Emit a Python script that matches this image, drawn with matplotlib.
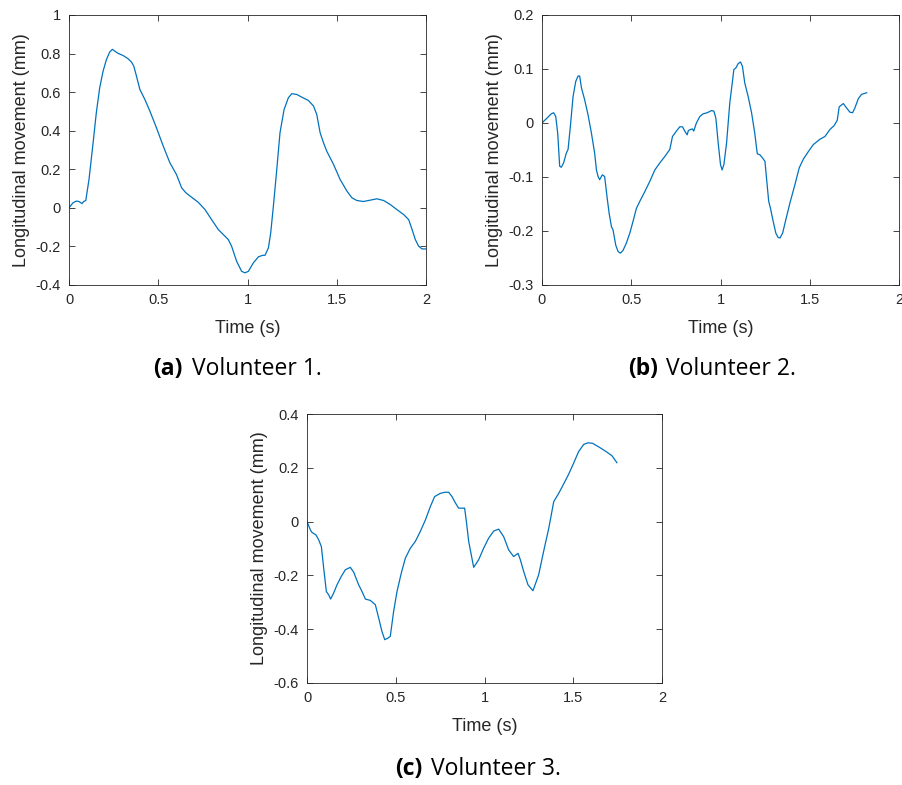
import matplotlib
matplotlib.use("Agg")
import matplotlib.pyplot as plt
from matplotlib.ticker import FormatStrFormatter

plt.rcParams['font.family'] = ['Liberation Sans', 'DejaVu Sans']
plt.rcParams['axes.unicode_minus'] = False

# Volunteer 1
t1 = [0, 0.022, 0.041, 0.056, 0.073, 0.082, 0.094, 0.112, 0.135, 0.153, 0.172, 0.191,
      0.21, 0.228, 0.243, 0.256, 0.275, 0.303, 0.331, 0.35, 0.363, 0.378, 0.397, 0.425,
      0.453, 0.49, 0.528, 0.565, 0.602, 0.631, 0.655, 0.687, 0.724, 0.762, 0.799, 0.836,
      0.864, 0.892, 0.911, 0.939, 0.967, 0.986, 1.005, 1.033, 1.061, 1.085, 1.098, 1.117,
      1.13, 1.145, 1.164, 1.182, 1.205, 1.229, 1.248, 1.276, 1.304, 1.341, 1.37, 1.388,
      1.407, 1.426, 1.444, 1.482, 1.519, 1.557, 1.585, 1.613, 1.65, 1.688, 1.725, 1.763,
      1.8, 1.837, 1.875, 1.903, 1.922, 1.94, 1.959, 1.978, 2.0]
v1 = [0, 0.026, 0.035, 0.033, 0.022, 0.033, 0.038, 0.147, 0.337, 0.493, 0.623, 0.709,
      0.77, 0.808, 0.822, 0.813, 0.801, 0.79, 0.773, 0.756, 0.735, 0.683, 0.614, 0.562,
      0.502, 0.415, 0.32, 0.234, 0.173, 0.104, 0.078, 0.055, 0.029, -0.009, -0.061, -0.112,
      -0.138, -0.164, -0.199, -0.277, -0.329, -0.337, -0.329, -0.285, -0.254, -0.246, -0.246,
      -0.208, -0.13, 0.009, 0.199, 0.389, 0.51, 0.571, 0.592, 0.588, 0.574, 0.557, 0.528,
      0.484, 0.389, 0.337, 0.294, 0.225, 0.147, 0.087, 0.052, 0.038, 0.033, 0.04, 0.047,
      0.038, 0.017, -0.009, -0.035, -0.061, -0.112, -0.164, -0.199, -0.213, -0.213]

# Volunteer 2
t2 = [0, 0.015, 0.034, 0.052, 0.065, 0.077, 0.088, 0.099, 0.108, 0.121, 0.136, 0.146,
      0.159, 0.174, 0.189, 0.202, 0.211, 0.221, 0.239, 0.258, 0.277, 0.295, 0.305, 0.314,
      0.323, 0.338, 0.351, 0.364, 0.376, 0.389, 0.398, 0.413, 0.426, 0.439, 0.454, 0.473,
      0.492, 0.51, 0.529, 0.548, 0.576, 0.604, 0.632, 0.66, 0.688, 0.716, 0.731, 0.753,
      0.772, 0.787, 0.8, 0.813, 0.82, 0.832, 0.843, 0.85, 0.865, 0.884, 0.903, 0.925,
      0.95, 0.963, 0.974, 0.987, 1.0, 1.009, 1.019, 1.034, 1.052, 1.075, 1.086, 1.099,
      1.112, 1.123, 1.136, 1.155, 1.174, 1.192, 1.206, 1.221, 1.236, 1.249, 1.262, 1.27,
      1.28, 1.295, 1.31, 1.323, 1.333, 1.348, 1.366, 1.389, 1.417, 1.441, 1.464, 1.492,
      1.52, 1.557, 1.585, 1.613, 1.636, 1.654, 1.665, 1.688, 1.706, 1.725, 1.74, 1.753,
      1.772, 1.79, 1.819]
v2 = [0, 0.005, 0.011, 0.017, 0.019, 0.012, -0.019, -0.08, -0.082, -0.074, -0.056, -0.049,
      -0.006, 0.049, 0.077, 0.087, 0.087, 0.065, 0.043, 0.015, -0.019, -0.056, -0.087, -0.099,
      -0.105, -0.096, -0.099, -0.136, -0.167, -0.192, -0.198, -0.226, -0.238, -0.241, -0.236,
      -0.222, -0.204, -0.182, -0.158, -0.145, -0.127, -0.108, -0.087, -0.074, -0.062, -0.049,
      -0.025, -0.015, -0.007, -0.007, -0.015, -0.022, -0.014, -0.012, -0.011, -0.015, 0,
      0.012, 0.017, 0.019, 0.023, 0.022, 0.009, -0.037, -0.077, -0.087, -0.077, -0.037,
      0.037, 0.099, 0.102, 0.11, 0.113, 0.105, 0.074, 0.049, 0.019, -0.019, -0.057, -0.059,
      -0.065, -0.071, -0.117, -0.145, -0.158, -0.182, -0.204, -0.212, -0.213, -0.204, -0.179,
      -0.148, -0.114, -0.083, -0.067, -0.053, -0.04, -0.03, -0.025, -0.012, -0.005, 0.005,
      0.03, 0.036, 0.028, 0.02, 0.019, 0.028, 0.045, 0.053, 0.056]

# Volunteer 3
t3 = [0, 0.019, 0.028, 0.051, 0.066, 0.081, 0.094, 0.109, 0.122, 0.133, 0.15, 0.169,
      0.193, 0.216, 0.244, 0.263, 0.291, 0.31, 0.329, 0.357, 0.385, 0.404, 0.422, 0.438,
      0.456, 0.469, 0.488, 0.507, 0.531, 0.554, 0.582, 0.61, 0.638, 0.667, 0.695, 0.719,
      0.751, 0.776, 0.798, 0.817, 0.832, 0.854, 0.873, 0.888, 0.898, 0.911, 0.939, 0.967,
      0.995, 1.023, 1.052, 1.08, 1.108, 1.136, 1.164, 1.189, 1.202, 1.221, 1.245, 1.273,
      1.305, 1.333, 1.362, 1.39, 1.418, 1.446, 1.474, 1.502, 1.53, 1.559, 1.583, 1.609,
      1.643, 1.681, 1.718, 1.746]
v3 = [0, -0.031, -0.04, -0.05, -0.068, -0.093, -0.173, -0.26, -0.272, -0.288, -0.266,
      -0.235, -0.204, -0.179, -0.17, -0.188, -0.235, -0.26, -0.288, -0.293, -0.309, -0.359,
      -0.408, -0.439, -0.433, -0.427, -0.334, -0.26, -0.192, -0.136, -0.099, -0.074, -0.037,
      0.006, 0.056, 0.093, 0.105, 0.109, 0.109, 0.093, 0.074, 0.05, 0.05, 0.05, 0, -0.074,
      -0.17, -0.142, -0.099, -0.062, -0.035, -0.028, -0.056, -0.105, -0.13, -0.118, -0.142,
      -0.186, -0.235, -0.257, -0.198, -0.111, -0.025, 0.074, 0.105, 0.14, 0.176, 0.217,
      0.26, 0.287, 0.293, 0.291, 0.278, 0.262, 0.245, 0.219]

panels = [
    (t1, v1, (-0.4, 1.0), [-0.4, -0.2, 0, 0.2, 0.4, 0.6, 0.8, 1.0], "(a)", "Volunteer 1."),
    (t2, v2, (-0.3, 0.2), [-0.3, -0.2, -0.1, 0, 0.1, 0.2], "(b)", "Volunteer 2."),
    (t3, v3, (-0.6, 0.4), [-0.6, -0.4, -0.2, 0, 0.2, 0.4], "(c)", "Volunteer 3."),
]

W, H = 902, 785
# axes boxes in pixels: left, top, right, bottom
boxes = [(69, 15, 426, 285), (542, 15, 899, 285), (307, 414, 662, 683)]
# caption: bold tag right edge, name left edge, centre y (pixels)
captions = [(183, 192, 369), (658, 666, 369), (422, 431, 769)]

fig = plt.figure(figsize=(W / 100, H / 100), dpi=100)
dark = '#262626'
cap_font = ['Open Sans', 'DejaVu Sans']

for (t, v, ylim, yticks, tag, name), (l, tp, r, b), (bx, nx, cy) in zip(panels, boxes, captions):
    ax = fig.add_axes([l / W, 1 - b / H, (r - l) / W, (b - tp) / H])
    ax.plot(t, v, color='#0072BD', lw=0.9)
    ax.set_xlim(0, 2)
    ax.set_ylim(*ylim)
    ax.set_xticks([0, 0.5, 1, 1.5, 2])
    ax.set_yticks(yticks)
    ax.xaxis.set_major_formatter(FormatStrFormatter('%g'))
    ax.yaxis.set_major_formatter(FormatStrFormatter('%g'))
    ax.tick_params(direction='in', length=4, width=0.6, top=True, right=True,
                   labelsize=10.5, colors=dark, pad=6)
    for s in ax.spines.values():
        s.set_linewidth(0.6)
        s.set_color(dark)
    ax.set_xlabel('Time (s)', fontsize=13, color=dark, labelpad=9)
    ax.set_ylabel('Longitudinal movement (mm)', fontsize=13, color=dark, labelpad=4)

    fig.text(bx / W, 1 - cy / H, tag, ha='right', va='center', fontsize=16.5,
             fontweight='bold', family=cap_font)
    fig.text(nx / W, 1 - cy / H, name, ha='left', va='center', fontsize=16.5,
             family=cap_font)

fig.savefig('out.png', dpi=100)
